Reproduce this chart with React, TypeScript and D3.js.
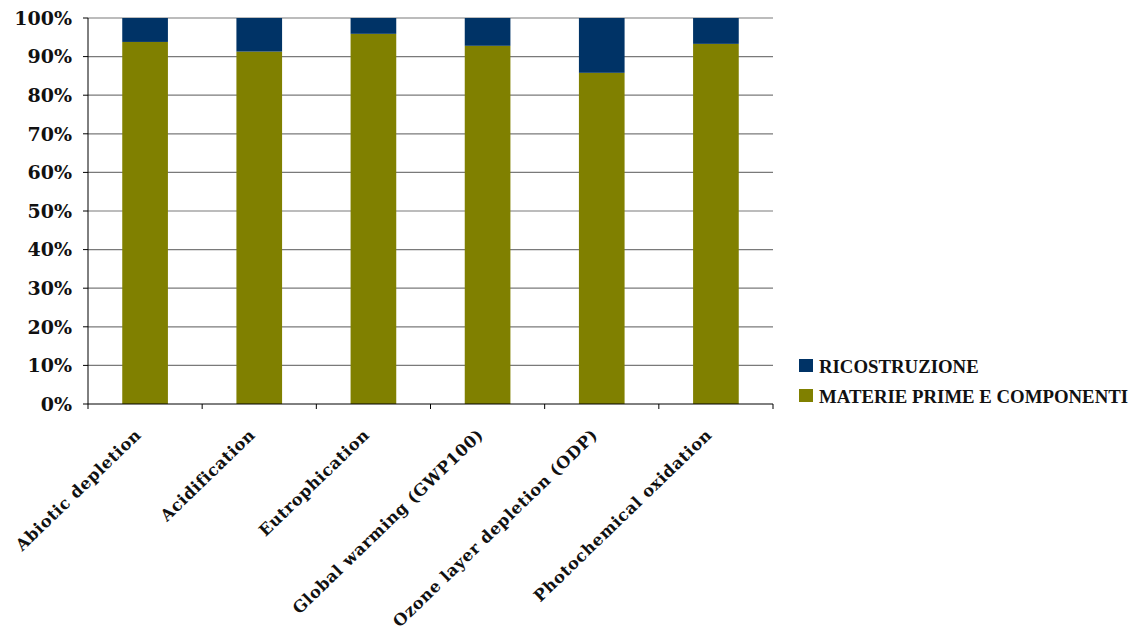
import React from "react";
import * as d3 from "d3";

const categories = [
  "Abiotic depletion",
  "Acidification",
  "Eutrophication",
  "Global warming (GWP100)",
  "Ozone layer depletion (ODP)",
  "Photochemical oxidation",
];
const materiePrime = [93.8, 91.3, 95.9, 92.8, 85.8, 93.3];
const ricostruzione = [6.2, 8.7, 4.1, 7.2, 14.2, 6.7];
const yTicks = [0, 10, 20, 30, 40, 50, 60, 70, 80, 90, 100];
const seriesNames = ["RICOSTRUZIONE", "MATERIE PRIME E COMPONENTI"];
const seriesColors = ["#003366", "#808000"];

export default function App() {
  const W = 1132;
  const H = 635;
  const left = 88;
  const right = 773;
  const top = 18;
  const bottom = 404;

  const x = d3.scaleBand<string>().domain(categories).range([left, right]).padding(0);
  const y = d3.scaleLinear().domain([0, 100]).range([bottom, top]);
  const barW = x.bandwidth() * 0.4;

  const rows = categories.map((c, i) => ({
    cat: c,
    materie: materiePrime[i],
    ricostruzione: ricostruzione[i],
  }));
  const stack = d3.stack<any>().keys(["materie", "ricostruzione"]);
  const stacked = stack(rows);
  const colorFor: Record<string, string> = {
    materie: seriesColors[1],
    ricostruzione: seriesColors[0],
  };

  const font = "'DejaVu Serif', serif";
  const boundaries = categories.map((c) => x(c)!).concat([right]);

  return (
    <svg
      width={W}
      height={H}
      style={{ position: "fixed", left: 0, top: 0, background: "#fff" }}
      fontFamily={font}
    >
      <rect x={0} y={0} width={W} height={H} fill="#fff" />
      {/* gridlines */}
      {yTicks.filter((t) => t > 0).map((t) => (
        <line key={t} x1={left} x2={right} y1={y(t)} y2={y(t)} stroke="#7a7a7a" strokeWidth={1.2} />
      ))}
      {/* bars */}
      {stacked.map((s) => (
        <g key={s.key} fill={colorFor[s.key]}>
          {s.map((d, i) => {
            const cx = x(categories[i])! + x.bandwidth() / 2;
            return (
              <rect
                key={i}
                x={cx - barW / 2}
                width={barW}
                y={y(Math.min(d[1], 100))}
                height={y(d[0]) - y(Math.min(d[1], 100))}
              />
            );
          })}
        </g>
      ))}
      {/* y axis */}
      <line x1={left} x2={left} y1={top} y2={bottom} stroke="#000" strokeWidth={1} />
      {yTicks.map((t) => (
        <g key={t}>
          <line x1={left - 5} x2={left} y1={y(t)} y2={y(t)} stroke="#000" />
          <text
            x={72}
            y={y(t)}
            dy="0.36em"
            textAnchor="end"
            fontSize={19}
            fontWeight="bold"
            fill="#111"
          >
            {t}%
          </text>
        </g>
      ))}
      {/* x axis */}
      <line x1={left} x2={right} y1={bottom} y2={bottom} stroke="#000" strokeWidth={1} />
      {boundaries.map((b, i) => (
        <line key={i} x1={b} x2={b} y1={bottom} y2={bottom + 5} stroke="#000" />
      ))}
      {categories.map((c) => {
        const cx = x(c)! + x.bandwidth() / 2;
        return (
          <text
            key={c}
            transform={`translate(${cx - 3},${bottom + 32}) rotate(-44)`}
            textAnchor="end"
            fontSize={16.3}
            fontWeight="bold"
            letterSpacing={0.6}
            fill="#111"
          >
            {c}
          </text>
        );
      })}
      {/* legend */}
      {seriesNames.map((n, i) => (
        <g key={n} transform={`translate(799,${359 + i * 30})`}>
          <rect x={0} y={0} width={14} height={13} fill={seriesColors[i]} />
          <text
            x={20}
            y={7}
            dy="0.35em"
            fontSize={18.8}
            fontWeight="bold"
            fill="#111"
            fontFamily="'Liberation Serif', serif"
          >
            {n}
          </text>
        </g>
      ))}
    </svg>
  );
}
